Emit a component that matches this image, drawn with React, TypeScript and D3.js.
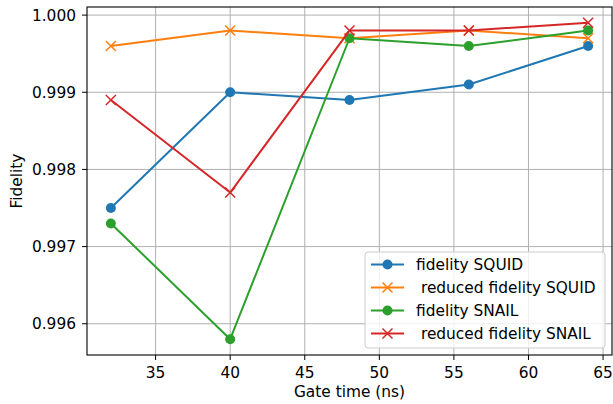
import { useEffect, useRef } from 'react'
import * as d3 from 'd3'

const gateTimes = [32, 40, 48, 56, 64]
const fidelitySquid = [0.9975, 0.999, 0.9989, 0.9991, 0.9996]
const reducedSquid = [0.9996, 0.9998, 0.9997, 0.9998, 0.9997]
const fidelitySnail = [0.9973, 0.9958, 0.9997, 0.9996, 0.9998]
const reducedSnail = [0.9989, 0.9977, 0.9998, 0.9998, 0.9999]

const xTicks = [35, 40, 45, 50, 55, 60, 65]
const yTicks = [0.996, 0.997, 0.998, 0.999, 1.0]

const series = [
  { label: 'fidelity SQUID', values: fidelitySquid, color: '#1f77b4', marker: 'o' },
  { label: ' reduced fidelity SQUID', values: reducedSquid, color: '#ff7f0e', marker: 'x' },
  { label: 'fidelity SNAIL', values: fidelitySnail, color: '#2ca02c', marker: 'o' },
  { label: ' reduced fidelity SNAIL', values: reducedSnail, color: '#d62728', marker: 'x' },
]

const W = 613
const H = 404

export default function App() {
  const ref = useRef<SVGSVGElement>(null)

  useEffect(() => {
    const svg = d3.select(ref.current)
    svg.selectAll('*').remove()

    const m = { top: 7, right: 1, bottom: 49, left: 87 }
    const x = d3.scaleLinear().domain([30.4, 65.6]).range([m.left, W - m.right])
    const y = d3.scaleLinear().domain([0.995595, 1.000105]).range([H - m.bottom, m.top])
    const font = '"DejaVu Sans", sans-serif'
    const fs = '15.4px'

    // grid
    const grid = svg.append('g').attr('stroke', '#b0b0b0').attr('stroke-width', 1)
    xTicks.forEach(t => {
      grid.append('line').attr('x1', x(t)).attr('x2', x(t)).attr('y1', m.top).attr('y2', H - m.bottom)
    })
    yTicks.forEach(t => {
      grid.append('line').attr('x1', m.left).attr('x2', W - m.right).attr('y1', y(t)).attr('y2', y(t))
    })

    // series
    const line = d3.line<number>().x((d, i) => x(gateTimes[i])).y(d => y(d))
    series.forEach(s => {
      const g = svg.append('g')
      g.append('path').attr('d', line(s.values)).attr('fill', 'none')
        .attr('stroke', s.color).attr('stroke-width', 2).attr('stroke-linejoin', 'round')
      s.values.forEach((v, i) => drawMarker(g, s.marker, x(gateTimes[i]), y(v), s.color))
    })

    // axes frame
    svg.append('rect').attr('x', m.left).attr('y', m.top)
      .attr('width', W - m.right - m.left).attr('height', H - m.bottom - m.top)
      .attr('fill', 'none').attr('stroke', '#000').attr('stroke-width', 1.1)

    const xAxis = svg.append('g').attr('transform', `translate(0,${H - m.bottom})`)
    xTicks.forEach(t => {
      xAxis.append('line').attr('x1', x(t)).attr('x2', x(t)).attr('y1', 0).attr('y2', 5).attr('stroke', '#000')
      xAxis.append('text').attr('x', x(t)).attr('y', 23).attr('text-anchor', 'middle')
        .style('font-family', font).style('font-size', fs).text(String(t))
    })
    const yAxis = svg.append('g').attr('transform', `translate(${m.left},0)`)
    yTicks.forEach(t => {
      yAxis.append('line').attr('x1', -5).attr('x2', 0).attr('y1', y(t)).attr('y2', y(t)).attr('stroke', '#000')
      yAxis.append('text').attr('x', -11).attr('y', y(t)).attr('dy', '0.36em').attr('text-anchor', 'end')
        .style('font-family', font).style('font-size', fs).text(d3.format('.3f')(t))
    })

    svg.append('text').attr('x', 349.5).attr('y', 397).attr('text-anchor', 'middle')
      .style('font-family', font).style('font-size', fs).text('Gate time (ns)')
    svg.append('text').attr('transform', `translate(22,${(m.top + H - m.bottom) / 2}) rotate(-90)`)
      .attr('text-anchor', 'middle')
      .style('font-family', font).style('font-size', fs).text('Fidelity')

    // legend
    const lg = svg.append('g').attr('transform', 'translate(365,252)')
    lg.append('rect').attr('width', 240).attr('height', 96).attr('rx', 3)
      .attr('fill', 'rgba(255,255,255,0.8)').attr('stroke', '#cccccc')
    series.forEach((s, i) => {
      const ly = 12.5 + i * 23
      lg.append('line').attr('x1', 6).attr('x2', 39).attr('y1', ly).attr('y2', ly)
        .attr('stroke', s.color).attr('stroke-width', 2)
      drawMarker(lg, s.marker, 22.5, ly, s.color)
      lg.append('text').attr('x', 51).attr('y', ly).attr('dy', '0.36em')
        .style('font-family', font).style('font-size', fs).style('white-space', 'pre')
        .attr('xml:space', 'preserve').text(s.label)
    })
  }, [])

  return (
    <svg ref={ref} width={W} height={H}
      style={{ position: 'absolute', left: 0, top: 0, background: '#fff' }} />
  )
}

function drawMarker(g: any, type: string, cx: number, cy: number, color: string) {
  if (type === 'o') {
    g.append('circle').attr('cx', cx).attr('cy', cy).attr('r', 5).attr('fill', color)
  } else {
    const r = 5
    g.append('path').attr('d', `M${cx - r},${cy - r}L${cx + r},${cy + r}M${cx - r},${cy + r}L${cx + r},${cy - r}`)
      .attr('stroke', color).attr('stroke-width', 1.5).attr('fill', 'none')
  }
}
